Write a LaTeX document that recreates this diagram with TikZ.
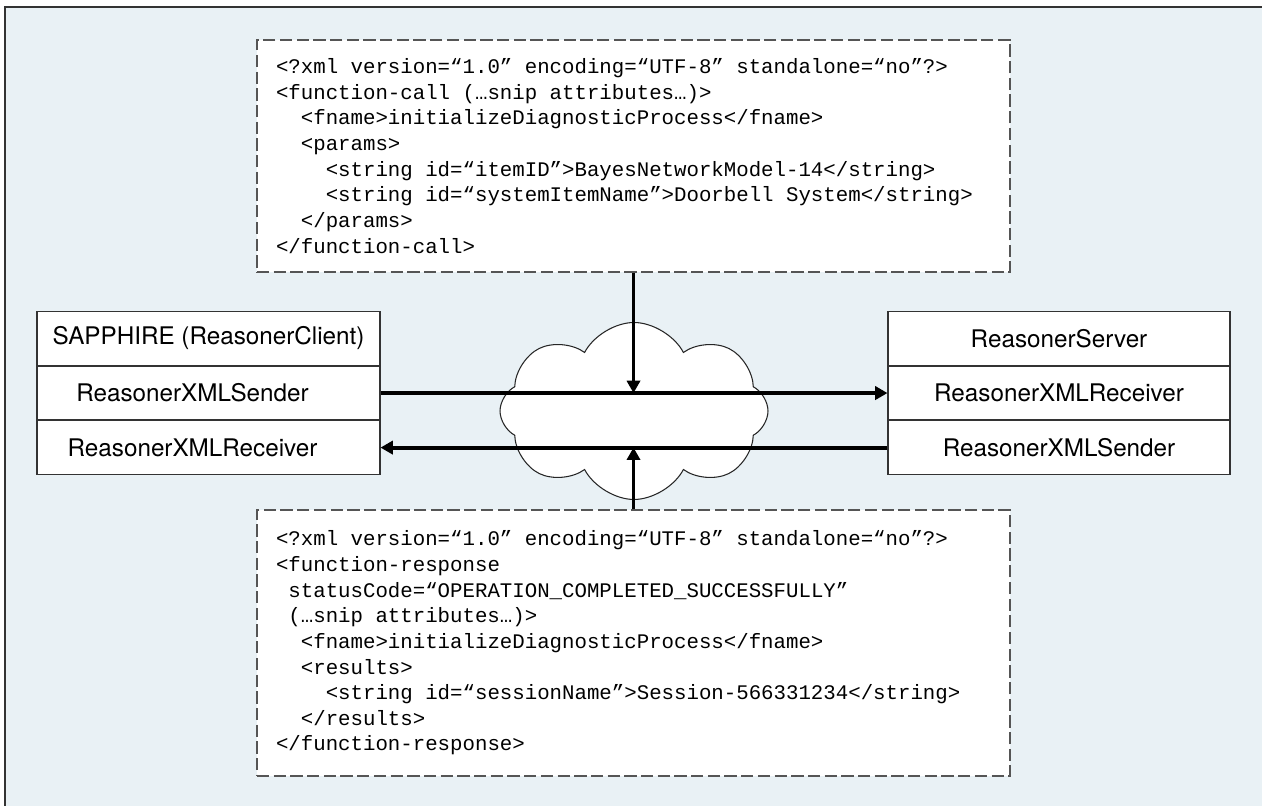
\documentclass[tikz,border=0pt]{standalone}
\usepackage{fontspec}
\newfontfamily\heros{TeX Gyre Heros}
\newfontfamily\codefont{Liberation Mono}
\usetikzlibrary{positioning,shapes.symbols,arrows.meta}
\definecolor{paneblue}{RGB}{233,241,245}
\definecolor{dashgray}{RGB}{85,85,85}
\begin{document}
\begin{tikzpicture}[
  rowbox/.style={draw=black!80,fill=white,line width=0.6pt,minimum height=1.07cm,inner sep=0pt,font=\heros\fontsize{13.8}{16}\selectfont},
  xmlbox/.style={draw=dashgray,fill=white,dash pattern=on 7pt off 2.5pt,line width=0.8pt,text width=14.3cm,inner xsep=0.38cm,inner ysep=0pt,align=left,font=\codefont\fontsize{11.8}{14.6}\selectfont,
    execute at begin node={\spaceskip=0.6em\xspaceskip=0.6em\relax}},
  link/.style={line width=2.2pt,-{Triangle[length=7pt,width=7.5pt]}},
  feed/.style={line width=1.6pt,-{Triangle[length=7pt,width=7.5pt]}}
]
\useasboundingbox (0,0) rectangle (25.24,16.12);
\fill[white] (0,0) rectangle (25.24,16.12);
\fill[paneblue] (0.1,0) rectangle (25.24,15.98);
\draw[black!80,line width=0.6pt] (0.1,0) -- (0.1,15.98) -- (25.24,15.98);

\node[xmlbox,minimum width=15.06cm,minimum height=4.64cm] (call) at (12.67,13.0) {%
<?xml version=“1.0” encoding=“UTF-8” standalone=“no”?>\\
<function-call (…snip attributes…)>\\
~~<fname>initializeDiagnosticProcess</fname>\\
~~<params>\\
~~~~<string id=“itemID”>BayesNetworkModel-14</string>\\
~~~~<string id=“systemItemName”>Doorbell System</string>\\
~~</params>\\
</function-call>};

\node[xmlbox,minimum width=15.06cm,minimum height=5.32cm] (resp) at (12.67,3.26) {%
<?xml version=“1.0” encoding=“UTF-8” standalone=“no”?>\\
<function-response\\
~statusCode=“OPERATION\_COMPLETED\_SUCCESSFULLY”\\
~(…snip attributes…)>\\
~~<fname>initializeDiagnosticProcess</fname>\\
~~<results>\\
~~~~<string id=“sessionName”>Session-566331234</string>\\
~~</results>\\
</function-response>};

\node[rowbox,minimum width=6.86cm] (client) at (4.17,9.35) {SAPPHIRE (ReasonerClient)};
\node[rowbox,minimum width=6.86cm,below=0pt of client] (csend) {ReasonerXMLSender\hspace*{0.64cm}};
\node[rowbox,minimum width=6.86cm,below=0pt of csend] (crecv) {ReasonerXMLReceiver\hspace*{0.64cm}};

\node[rowbox,minimum width=6.84cm] (server) at (21.18,9.35) {ReasonerServer};
\node[rowbox,minimum width=6.84cm,below=0pt of server] (srecv) {ReasonerXMLReceiver};
\node[rowbox,minimum width=6.84cm,below=0pt of srecv] (ssend) {ReasonerXMLSender};

\node[cloud,draw=black!85,fill=white,line width=0.6pt,cloud puffs=8,cloud puff arc=125,aspect=1.5,minimum width=5.36cm,minimum height=3.54cm] (net) at (12.68,7.9) {};

\draw[link] (csend) -- (srecv);
\draw[link] (ssend) -- (crecv);
\draw[feed] (call.south) -- (call.south |- csend.east);
\draw[feed] (resp.north) -- (resp.north |- crecv.east);
\end{tikzpicture}
\end{document}
